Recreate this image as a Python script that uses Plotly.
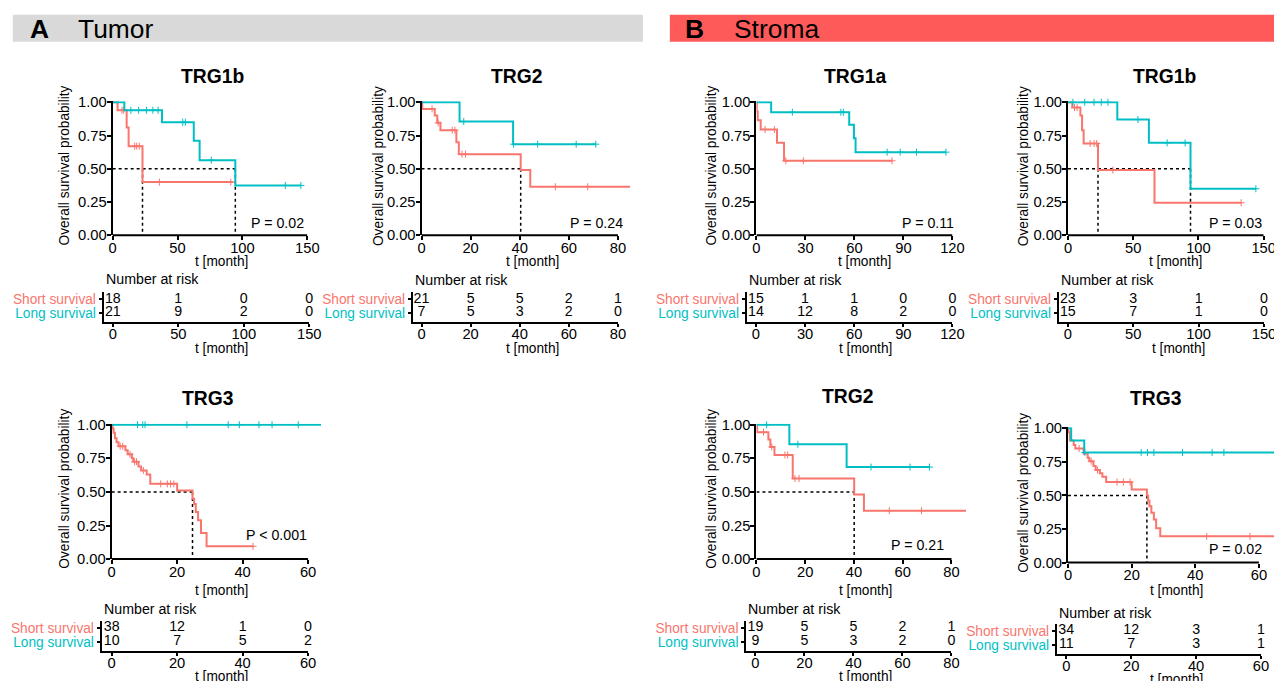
import plotly.graph_objects as go

# target picture geometry is measured in reference pixels; the renderer slightly
# shrinks and shifts the page, so reference pixels are mapped back through it.
W, H = 1290, 696
AX, BX = 0.989, 1.2
AY, BY = 0.980, 5.3
FS = 1 / 0.985
RED = "#F8766D"
CYAN = "#00BFC4"
FONT = "Liberation Sans, Arial, sans-serif"

# ---------------- data ----------------
# Tumor TRG1b
t1_red_t = [0, 3.8, 10.8, 12.3, 23.0, 92.8]
t1_red_s = [1, 0.94, 0.81, 0.67, 0.40, 0.40]
t1_red_c = [7.2, 8.5, 17.0, 18.5, 20.5, 36.0, 91.0]
t1_cyan_t = [0, 9.0, 38.0, 62.5, 67.0, 94.5, 145]
t1_cyan_s = [1, 0.94, 0.85, 0.71, 0.565, 0.375, 0.375]
t1_cyan_c = [14, 20, 26, 31, 35, 54, 56, 76, 133, 145]
t1_medians = [23.0, 94.5]
t1_p = "P = 0.02"
t1_risk_t = [0, 50, 100, 150]
t1_risk_short = [18, 1, 0, 0]
t1_risk_long = [21, 9, 2, 0]

# Tumor TRG2
t2_red_t = [0, 0.3, 5.4, 6.4, 7.7, 14.2, 15.2, 40.4, 44.3, 85]
t2_red_s = [1, 0.95, 0.90, 0.845, 0.79, 0.70, 0.61, 0.49, 0.365, 0.365]
t2_red_c = [4.3, 6.8, 12.5, 13.6, 16.5, 17.9, 54.5, 67.7]
t2_cyan_t = [0, 15.5, 37.3, 71]
t2_cyan_s = [1, 0.855, 0.685, 0.685]
t2_cyan_c = [17.2, 37.5, 47.3, 63, 71]
t2_medians = [40.4]
t2_p = "P = 0.24"
t2_risk_t = [0, 20, 40, 60, 80]
t2_risk_short = [21, 5, 5, 2, 1]
t2_risk_long = [7, 5, 3, 2, 0]

# Tumor TRG3
t3_red_t = [0, 0.3, 0.6, 1.0, 1.5, 2.1, 4.2, 4.9, 6.2, 6.6, 8.2, 9.0, 10.7, 11.8,
            20.0, 24.7, 25.2, 25.7, 26.4, 27.3, 29.0, 43.2]
t3_red_s = [1, 0.97, 0.94, 0.90, 0.87, 0.84, 0.81, 0.78, 0.75, 0.725, 0.69, 0.66, 0.63, 0.56,
            0.51, 0.45, 0.41, 0.35, 0.29, 0.195, 0.095, 0.095]
t3_red_c = [2.6, 3.4, 5.6, 7.0, 7.6, 9.7, 15.0, 17.0, 18.0, 19.0, 43.2]
t3_cyan_t = [0, 64]
t3_cyan_s = [1, 1]
t3_cyan_c = [7.9, 9.5, 10.2, 23.0, 35.6, 39.0, 45.0, 49.0, 57.0]
t3_medians = [24.7]
t3_p = "P < 0.001"
t3_risk_t = [0, 20, 40, 60]
t3_risk_short = [38, 12, 1, 0]
t3_risk_long = [10, 7, 5, 2]

# Stroma TRG1a
s1_red_t = [0, 0.2, 0.8, 2.6, 12.6, 16.9, 83]
s1_red_s = [1, 0.93, 0.865, 0.795, 0.695, 0.56, 0.56]
s1_red_c = [5.3, 11.0, 18.0, 28.7, 83]
s1_cyan_t = [0, 9.0, 56.8, 59.7, 60.7, 116]
s1_cyan_s = [1, 0.925, 0.83, 0.73, 0.625, 0.625]
s1_cyan_c = [22, 51.7, 53.2, 80, 88, 98, 116]
s1_medians = []
s1_p = "P = 0.11"
s1_risk_t = [0, 30, 60, 90, 120]
s1_risk_short = [15, 1, 1, 0, 0]
s1_risk_long = [14, 12, 8, 2, 0]

# Stroma TRG1b
s2_red_t = [0, 3.3, 9.5, 10.8, 12.0, 23.0, 66.3, 132.7]
s2_red_s = [1, 0.96, 0.90, 0.79, 0.69, 0.49, 0.245, 0.245]
s2_red_c = [5.0, 7.0, 17.0, 20.0, 22.0, 34.4, 132.7]
s2_cyan_t = [0, 37.8, 62.0, 93.9, 144]
s2_cyan_s = [1, 0.87, 0.695, 0.35, 0.35]
s2_cyan_c = [3.8, 12.8, 19.9, 25.5, 30.6, 53.6, 76, 89.8, 144]
s2_medians = [23.0, 93.9]
s2_p = "P = 0.03"
s2_risk_t = [0, 50, 100, 150]
s2_risk_short = [23, 3, 1, 0]
s2_risk_long = [15, 7, 1, 0]

# Stroma TRG2
s3_red_t = [0, 0.3, 4.9, 5.7, 7.4, 14.9, 40.1, 44.1, 86]
s3_red_s = [1, 0.945, 0.89, 0.835, 0.775, 0.60, 0.48, 0.36, 0.36]
s3_red_c = [2.9, 6.3, 11.7, 12.8, 15.8, 17.5, 54.5, 67.7]
s3_cyan_t = [0, 13.5, 37.0, 71]
s3_cyan_s = [1, 0.855, 0.685, 0.685]
s3_cyan_c = [4.2, 17.0, 47.0, 63.0, 71]
s3_medians = [40.1]
s3_p = "P = 0.21"
s3_risk_t = [0, 20, 40, 60, 80]
s3_risk_short = [19, 5, 5, 2, 1]
s3_risk_long = [9, 5, 3, 2, 0]

# Stroma TRG3
s4_red_t = [0, 0.2, 0.6, 1.8, 2.3, 4.9, 6.2, 6.7, 8.0, 8.7, 10.0, 10.8, 12.0, 20.0,
            24.8, 25.2, 25.6, 26.2, 27.0, 27.7, 29.0, 66]
s4_red_s = [1, 0.97, 0.91, 0.875, 0.85, 0.81, 0.78, 0.755, 0.72, 0.69, 0.665, 0.64, 0.60, 0.545,
            0.50, 0.46, 0.42, 0.37, 0.32, 0.255, 0.195, 0.195]
s4_red_c = [3.5, 7.3, 9.3, 15.4, 17.4, 19.5, 43.6, 57.2]
s4_cyan_t = [0, 1.0, 5.1, 66]
s4_cyan_s = [1, 0.91, 0.82, 0.82]
s4_cyan_c = [5.3, 23, 25, 27, 36, 45.3, 49]
s4_medians = [24.8]
s4_p = "P = 0.02"
s4_risk_t = [0, 20, 40, 60]
s4_risk_short = [34, 12, 3, 1]
s4_risk_long = [11, 7, 3, 1]

titles = ["TRG1b", "TRG2", "TRG3", "TRG1a", "TRG1b", "TRG2", "TRG3"]
row_labels = ["Short survival", "Long survival"]

# ---------------- layout geometry (reference pixels) ----------------
km_geo = [
    dict(x0=110, ppu=195/150, rmax=150, amax=150, dt=50, y1=100.7, y0=234,
         title=(210, 75), ytx=62, xt=(219, 260), p=(304, 222)),
    dict(x0=419.3, ppu=196.7/80, rmax=85, amax=80, dt=20, y1=100.7, y0=234,
         title=(514, 75), ytx=377, xt=(530, 260), p=(623, 222)),
    dict(x0=109, ppu=196.7/60, rmax=64, amax=60, dt=20, y1=423.7, y0=558.3,
         title=(205, 397), ytx=62, xt=(219, 590), p=(307, 534)),
    dict(x0=754.7, ppu=196.3/120, rmax=120, amax=120, dt=30, y1=100.7, y0=234,
         title=(853, 75), ytx=710, xt=(863, 260), p=(955, 222)),
    dict(x0=1066.7, ppu=196/150, rmax=150, amax=150, dt=50, y1=100.7, y0=234,
         title=(1163, 75), ytx=1022, xt=(1174, 260), p=(1263, 222)),
    dict(x0=754.7, ppu=195.3/80, rmax=86, amax=80, dt=20, y1=423.7, y0=558.3,
         title=(846, 395), ytx=710, xt=(864, 590), p=(945, 544)),
    dict(x0=1066.7, ppu=195/60, rmax=66, amax=60, dt=20, y1=427.3, y0=561.7,
         title=(1155, 397), ytx=1022, xt=(1175, 590), p=(1263, 548)),
]
tab_geo = [
    dict(xl=101, x0=110.2, ppu=196.7/150, ys=297.7, yl=311.7, ya=321, yt=291,
         nar=(101, 278), xt=(219, 347)),
    dict(xl=410.7, x0=419.3, ppu=196.7/80, ys=297.7, yl=311.7, ya=321, yt=291,
         nar=(411, 279), xt=(530, 347)),
    dict(xl=99, x0=109, ppu=196.7/60, ys=627, yl=641, ya=650.3, yt=620.3,
         nar=(99, 608), xt=(219, 676)),
    dict(xl=745, x0=754.2, ppu=196.8/120, ys=297.7, yl=311.7, ya=321, yt=291,
         nar=(745, 279), xt=(864, 347)),
    dict(xl=1057.5, x0=1066.5, ppu=196.5/150, ys=297.7, yl=311.7, ya=321, yt=291,
         nar=(1057.5, 279), xt=(1177, 347)),
    dict(xl=744.5, x0=753.7, ppu=196.3/80, ys=627, yl=641, ya=650.3, yt=620.3,
         nar=(744.5, 608), xt=(864, 676)),
    dict(xl=1055.6, x0=1065, ppu=195/60, ys=630, yl=644, ya=653.3, yt=623.3,
         nar=(1055.6, 612), xt=(1175, 679)),
]

curves = [
    (t1_red_t, t1_red_s, t1_red_c, t1_cyan_t, t1_cyan_s, t1_cyan_c, t1_medians, t1_p),
    (t2_red_t, t2_red_s, t2_red_c, t2_cyan_t, t2_cyan_s, t2_cyan_c, t2_medians, t2_p),
    (t3_red_t, t3_red_s, t3_red_c, t3_cyan_t, t3_cyan_s, t3_cyan_c, t3_medians, t3_p),
    (s1_red_t, s1_red_s, s1_red_c, s1_cyan_t, s1_cyan_s, s1_cyan_c, s1_medians, s1_p),
    (s2_red_t, s2_red_s, s2_red_c, s2_cyan_t, s2_cyan_s, s2_cyan_c, s2_medians, s2_p),
    (s3_red_t, s3_red_s, s3_red_c, s3_cyan_t, s3_cyan_s, s3_cyan_c, s3_medians, s3_p),
    (s4_red_t, s4_red_s, s4_red_c, s4_cyan_t, s4_cyan_s, s4_cyan_c, s4_medians, s4_p),
]
risks = [
    (t1_risk_t, t1_risk_short, t1_risk_long),
    (t2_risk_t, t2_risk_short, t2_risk_long),
    (t3_risk_t, t3_risk_short, t3_risk_long),
    (s1_risk_t, s1_risk_short, s1_risk_long),
    (s2_risk_t, s2_risk_short, s2_risk_long),
    (s3_risk_t, s3_risk_short, s3_risk_long),
    (s4_risk_t, s4_risk_short, s4_risk_long),
]


def step_at(ts, ss, x):
    v = ss[0]
    for t, s in zip(ts, ss):
        if t <= x:
            v = s
    return v


def px2x(px):
    return min(1.0, max(0.0, (px - BX) / AX / W))


def px2y(py):
    return min(1.0, max(0.0, 1 - (py - BY) / AY / H))


def fsz(s):
    return round(s * FS, 2)


fig = go.Figure()
layout = dict(
    width=W, height=H, margin=dict(l=0, r=0, t=0, b=0),
    plot_bgcolor="white", paper_bgcolor="white", showlegend=False,
    font=dict(family=FONT, size=fsz(14), color="black"),
)
annotations = []
shapes = []

TICKFONT = dict(family=FONT, size=fsz(14.5), color="black")
YTOP = 1.008

for i, (g, c) in enumerate(zip(km_geo, curves)):
    n = i + 1
    xa = "x" if n == 1 else f"x{n}"
    ya = "y" if n == 1 else f"y{n}"
    rt, rs, rc, ct, cs, cc, meds, ptxt = c
    ppy = g["y0"] - g["y1"]
    x_end = g["x0"] + g["rmax"] * g["ppu"]
    top_px = g["y1"] - (YTOP - 1) * ppy
    layout[f"xaxis{'' if n == 1 else n}"] = dict(
        domain=[px2x(g["x0"]), px2x(x_end)], range=[0, g["rmax"]],
        anchor=ya, showgrid=False, zeroline=False, showline=False,
        tickvals=list(range(0, int(g["amax"]) + 1, g["dt"])),
        ticks="outside", ticklen=4, tickwidth=1.5, tickcolor="black",
        ticklabelstandoff=-5,
        tickfont=TICKFONT, fixedrange=True)
    layout[f"yaxis{'' if n == 1 else n}"] = dict(
        domain=[px2y(g["y0"]), px2y(top_px)], range=[0, YTOP], anchor=xa,
        showgrid=False, zeroline=False, showline=True, linewidth=2, linecolor="black",
        tickvals=[0, 0.25, 0.5, 0.75, 1.0], tickformat=".2f",
        ticks="outside", ticklen=4, tickwidth=1.5, tickcolor="black",
        ticklabelstandoff=-3,
        tickfont=TICKFONT, fixedrange=True)
    shapes.append(dict(type="line", xref=xa, yref=f"{ya} domain", x0=0, x1=g["amax"],
                       y0=0, y1=0, line=dict(color="black", width=2)))
    if meds:
        fig.add_trace(go.Scatter(x=[0, max(meds)], y=[0.5, 0.5], mode="lines",
                                 line=dict(color="black", width=1.5, dash="dot"),
                                 xaxis=xa, yaxis=ya, hoverinfo="skip"))
        for m in meds:
            fig.add_trace(go.Scatter(x=[m, m], y=[0.5, 0], mode="lines",
                                     line=dict(color="black", width=1.5, dash="dot"),
                                     xaxis=xa, yaxis=ya, hoverinfo="skip"))
    for (tt, ss, cens, col) in [(rt, rs, rc, RED), (ct, cs, cc, CYAN)]:
        fig.add_trace(go.Scatter(x=tt, y=ss, mode="lines", line=dict(color=col, width=2, shape="hv"),
                                 xaxis=xa, yaxis=ya, hoverinfo="skip"))
        fig.add_trace(go.Scatter(x=cens, y=[step_at(tt, ss, v) for v in cens], mode="markers",
                                 marker=dict(symbol="cross-thin-open", size=5, color=col,
                                             line=dict(color=col, width=1)),
                                 xaxis=xa, yaxis=ya, hoverinfo="skip", cliponaxis=False))
    annotations.append(dict(text=f"<b>{titles[i]}</b>", x=px2x(g["title"][0]), y=px2y(g["title"][1]),
                            xref="paper", yref="paper", showarrow=False,
                            font=dict(family=FONT, size=fsz(19), color="black"),
                            xanchor="center", yanchor="middle"))
    annotations.append(dict(text="Overall survival probability", textangle=-90,
                            x=px2x(g["ytx"]), y=px2y((g["y0"] + g["y1"]) / 2 - 3),
                            xref="paper", yref="paper", showarrow=False,
                            font=dict(family=FONT, size=fsz(13.5), color="black"),
                            xanchor="center", yanchor="middle"))
    annotations.append(dict(text="t [month]", x=px2x(g["xt"][0]), y=px2y(g["xt"][1]),
                            xref="paper", yref="paper", showarrow=False,
                            font=dict(family=FONT, size=fsz(13.5), color="black"),
                            xanchor="center", yanchor="middle"))
    annotations.append(dict(text=ptxt, x=px2x(g["p"][0]), y=px2y(g["p"][1]),
                            xref="paper", yref="paper", showarrow=False,
                            font=dict(family=FONT, size=fsz(14), color="black"),
                            xanchor="right", yanchor="middle"))

for i, (g, r) in enumerate(zip(tab_geo, risks)):
    n = i + 8
    xa, ya = f"x{n}", f"y{n}"
    rtimes, rshort, rlong = r
    xmax = rtimes[-1]
    left = -(g["x0"] - g["xl"]) / g["ppu"]
    unit = g["yl"] - g["ys"]
    lo = 1 - (g["ya"] - g["yl"]) / unit
    hi = 2 + (g["ys"] - g["yt"]) / unit
    layout[f"xaxis{n}"] = dict(
        domain=[px2x(g["xl"]), px2x(g["x0"] + xmax * g["ppu"])], range=[left, xmax],
        anchor=ya, showgrid=False, zeroline=False, showline=True, linewidth=2, linecolor="black",
        tickvals=rtimes, ticks="outside", ticklen=3, tickwidth=1.5, tickcolor="black",
        ticklabelstandoff=-6,
        tickfont=TICKFONT, fixedrange=True)
    layout[f"yaxis{n}"] = dict(
        domain=[px2y(g["ya"]), px2y(g["yt"])], range=[lo, hi], anchor=xa,
        showgrid=False, zeroline=False, showline=True, linewidth=2, linecolor="black",
        tickvals=[2, 1],
        ticktext=[f'<span style="color:{RED}">{row_labels[0]}</span>',
                  f'<span style="color:{CYAN}">{row_labels[1]}</span>'],
        ticks="outside", ticklen=3, tickwidth=1.5, tickcolor="black",
        tickfont=dict(family=FONT, size=fsz(13.5)), fixedrange=True)
    fig.add_trace(go.Scatter(x=rtimes + rtimes, y=[2] * len(rtimes) + [1] * len(rtimes),
                             mode="text", text=[str(v) for v in rshort + rlong],
                             textfont=dict(family=FONT, size=fsz(14), color="black"),
                             textposition="middle center", cliponaxis=False,
                             xaxis=xa, yaxis=ya, hoverinfo="skip"))
    annotations.append(dict(text="Number at risk", x=px2x(g["nar"][0]), y=px2y(g["nar"][1]),
                            xref="paper", yref="paper", showarrow=False,
                            font=dict(family=FONT, size=fsz(14), color="black"),
                            xanchor="left", yanchor="middle"))
    annotations.append(dict(text="t [month]", x=px2x(g["xt"][0]), y=px2y(g["xt"][1]),
                            xref="paper", yref="paper", showarrow=False,
                            font=dict(family=FONT, size=fsz(13.5), color="black"),
                            xanchor="center", yanchor="middle"))

shapes.append(dict(type="rect", xref="paper", yref="paper", x0=px2x(10), x1=px2x(641),
                   y0=px2y(40), y1=px2y(13), fillcolor="#d9d9d9", line=dict(width=0), layer="below"))
shapes.append(dict(type="rect", xref="paper", yref="paper", x0=px2x(668), x1=1.0,
                   y0=px2y(40), y1=px2y(13), fillcolor="#ff5a5a", line=dict(width=0), layer="below"))
for txt, xpx, bold in [("A", 25, True), ("Tumor", 73, False), ("B", 681, True), ("Stroma", 730, False)]:
    annotations.append(dict(text=f"<b>{txt}</b>" if bold else txt, x=px2x(xpx), y=px2y(27),
                            xref="paper", yref="paper", showarrow=False,
                            font=dict(family=FONT, size=fsz(26), color="black"),
                            xanchor="left", yanchor="middle"))

layout["annotations"] = annotations
layout["shapes"] = shapes
fig.update_layout(**layout)

FIX = ("document.documentElement.style.margin='0';document.documentElement.style.padding='0';"
       "document.documentElement.style.overflow='hidden';"
       "document.body.style.margin='0';document.body.style.padding='0';document.body.style.overflow='hidden';"
       "var gd=document.getElementById('{plot_id}');gd.style.position='fixed';gd.style.left='0px';gd.style.top='0px';")
fig.write_html("out.html", config={"displayModeBar": False}, post_script=FIX)
